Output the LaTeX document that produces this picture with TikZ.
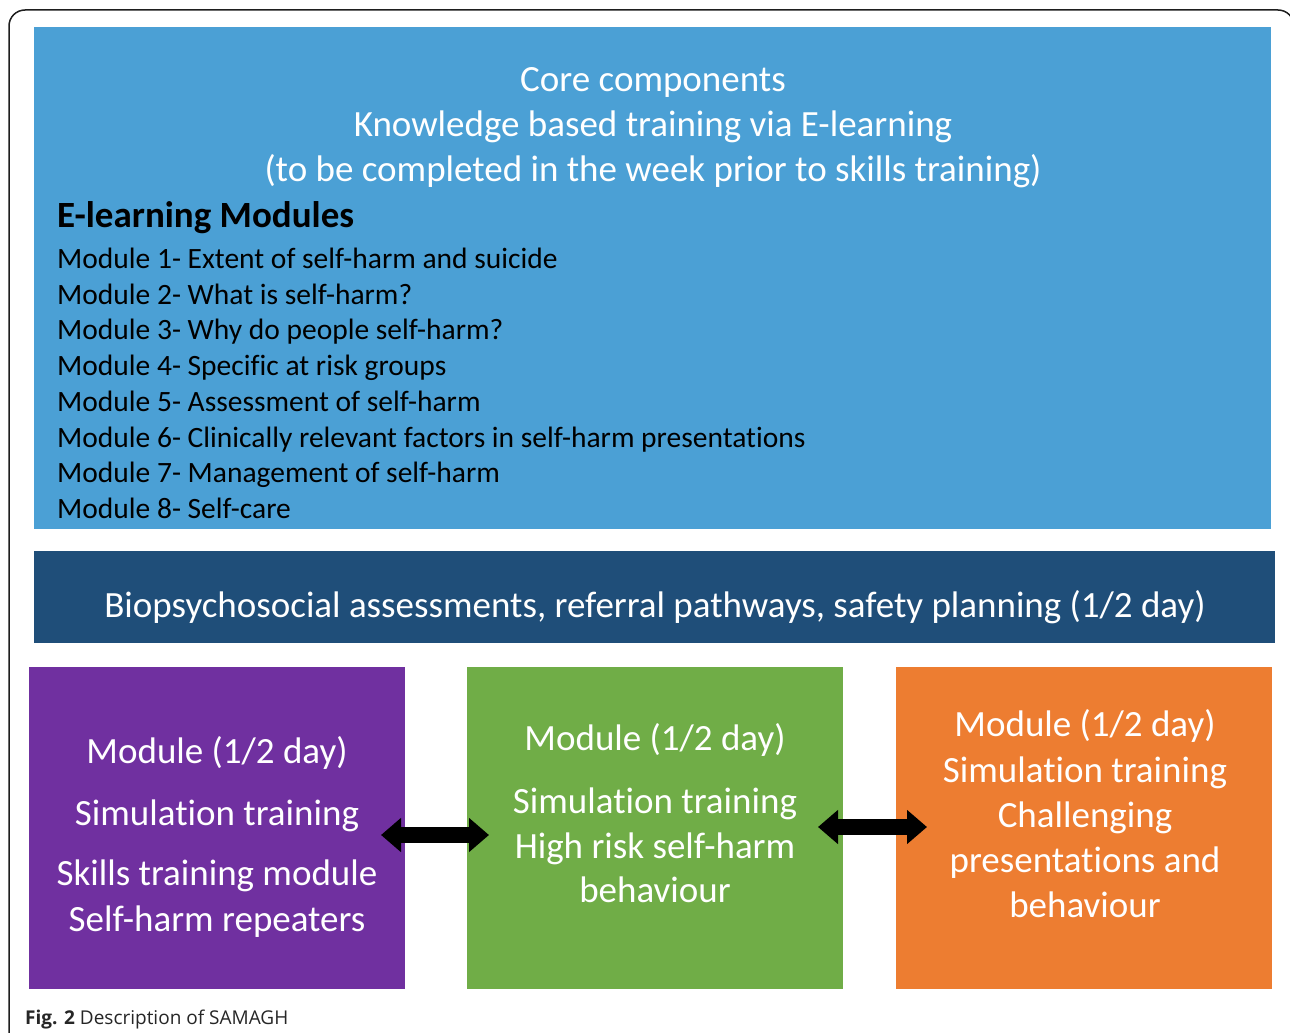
\documentclass[tikz,border=0pt]{standalone}
\usepackage{fontspec}
\setmainfont{Carlito}[Ligatures=NoCommon]
\newfontfamily\capfont{Open Sans}
\usetikzlibrary{arrows.meta}
\definecolor{lightblue}{RGB}{75,160,213}
\definecolor{darkblue}{RGB}{31,78,121}
\definecolor{mpurple}{RGB}{112,48,160}
\definecolor{mgreen}{RGB}{112,173,71}
\definecolor{morange}{RGB}{237,125,49}
\definecolor{framec}{RGB}{30,30,30}
\tikzset{
  box/.style={rectangle, draw=none, inner sep=0pt, outer sep=0pt},
  head/.style={anchor=base, text=white, font=\fontsize{37}{42}\selectfont, inner sep=0pt},
  modline/.style={anchor=base west, text=black, font=\fontsize{29.5}{34}\selectfont, inner sep=0pt},
  btext/.style={anchor=base, text=white, font=\fontsize{37}{42}\selectfont, inner sep=0pt},
  dbl/.style={line width=16pt, {Triangle[width=33pt,length=20pt]}-{Triangle[width=33pt,length=20pt]}, black}
}
\begin{document}
\begin{tikzpicture}[x=1pt,y=-1pt]
\useasboundingbox (0,0) rectangle (1290,1033);
\fill[white] (0,0) rectangle (1290,1033);
% outer frame
\draw[framec, line width=1.5pt, rounded corners=16pt] (9,1045) -- (9,10) -- (1294,10) -- (1294,1045);
% boxes
\node[box, fill=lightblue, minimum width=1237pt, minimum height=502pt] (core) at (652.5,278) {};
\node[box, fill=darkblue, minimum width=1241pt, minimum height=92pt] (bio) at (654.5,597) {};
\node[box, fill=mpurple, minimum width=376pt, minimum height=322pt] (pur) at (217,828) {};
\node[box, fill=mgreen, minimum width=376pt, minimum height=322pt] (grn) at (655,828) {};
\node[box, fill=morange, minimum width=376pt, minimum height=322pt] (org) at (1084,828) {};
% core text
\node[head] (h1) at (653,91) {Core components};
\node[head] (h2) at (653,136) {Knowledge based training via E-learning};
\node[head] (h3) at (653,181) {(to be completed in the week prior to skills training)};
\node[anchor=base west, inner sep=0pt, font=\fontsize{37}{41}\selectfont\bfseries] (elm) at (57,227) {E-learning Modules};
\node[modline] (m1) at (57,268) {Module 1- Extent of self-harm and suicide};
\node[modline] (m2) at (57,304) {Module 2- What is self-harm?};
\node[modline] (m3) at (57,339) {Module 3- Why do people self-harm?};
\node[modline] (m4) at (57,375) {Module 4- Specific at risk groups};
\node[modline] (m5) at (57,411) {Module 5- Assessment of self-harm};
\node[modline] (m6) at (57,447) {Module 6- Clinically relevant factors in self-harm presentations};
\node[modline] (m7) at (57,482) {Module 7- Management of self-harm};
\node[modline] (m8) at (57,518) {Module 8- Self-care};
% bio text
\node[head] (bt) at (655,617) {Biopsychosocial assessments, referral pathways, safety planning (1/2 day)};
% purple text
\node[btext] (p1) at (217,763) {Module (1/2 day)};
\node[btext] (p2) at (217,825) {Simulation training};
\node[btext] (p3) at (217,885) {Skills training module};
\node[btext] (p4) at (217,931) {Self-harm repeaters};
% green text
\node[btext] (g1) at (655,750) {Module (1/2 day)};
\node[btext] (g2) at (655,813) {Simulation training};
\node[btext] (g3) at (655,858) {High risk self-harm};
\node[btext] (g4) at (655,902) {behaviour};
% orange text
\node[btext] (o1) at (1085,736) {Module (1/2 day)};
\node[btext] (o2) at (1085,782) {Simulation training};
\node[btext] (o3) at (1085,827) {Challenging};
\node[btext] (o4) at (1085,872) {presentations and};
\node[btext] (o5) at (1085,917) {behaviour};
% arrows
\draw[dbl] ([xshift=-24pt,yshift=-7pt]pur.east) -- ([xshift=22pt,yshift=-7pt]grn.west);
\draw[dbl] ([xshift=-25pt,yshift=1pt]grn.east) -- ([xshift=31pt,yshift=1pt]org.west);
% caption
\node[anchor=base west, inner sep=0pt, font=\capfont\fontsize{19}{23}\selectfont, text=black!85] (cap) at (25,1024) {\textbf{Fig. 2} Description of SAMAGH};
\end{tikzpicture}
\end{document}
